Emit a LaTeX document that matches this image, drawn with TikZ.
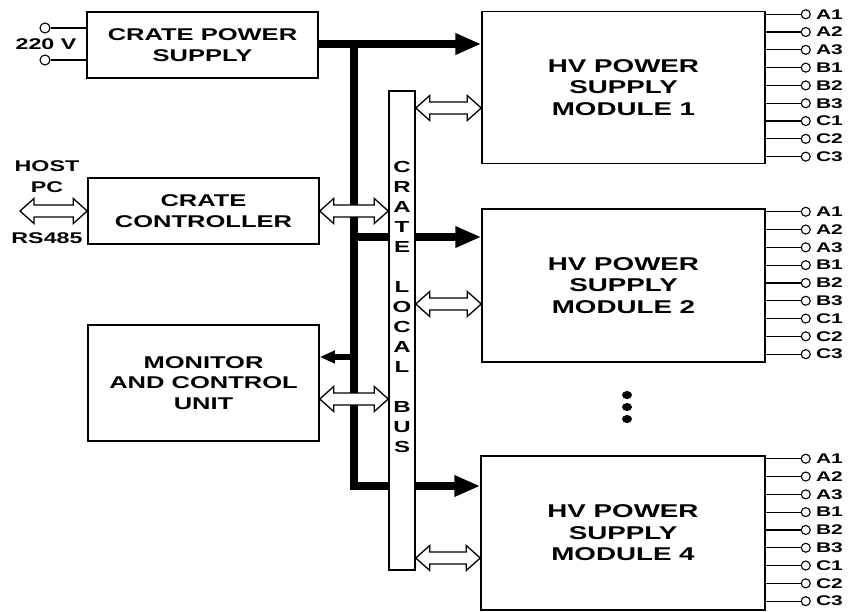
\documentclass[tikz,border=0pt]{standalone}
\usepackage{fontspec}
\newfontfamily\lab{Liberation Sans}[FakeStretch=1.5]
\usetikzlibrary{arrows.meta,calc}
\tikzset{
  box/.style={draw, line width=1.5pt, fill=white, inner sep=0pt, align=center,
    font=\lab\bfseries\fontsize{17}{20.5}\selectfont},
  modbox/.style={box, minimum width=283pt, minimum height=152pt,
    font=\lab\bfseries\fontsize{18.5}{21.5}\selectfont},
  sidelab/.style={inner sep=0pt, align=center, font=\lab\bfseries\fontsize{15.5}{21}\selectfont},
  pwr/.style={line width=8.5pt, -{Triangle[length=26pt,width=20pt]}},
  pwrline/.style={line width=8.5pt, line join=miter},
  pwrsmall/.style={line width=6pt, -{Triangle[length=15pt,width=12pt]}},
  hollow/.style={draw, line width=1.3pt, fill=white, line join=miter},
  thinline/.style={line width=1.2pt},
  term/.style={circle, draw, line width=1.1pt, minimum size=9pt, inner sep=0pt, fill=white},
  outlab/.style={anchor=west, inner sep=0pt, font=\lab\bfseries\fontsize{14}{15}\selectfont},
}
\newcommand\hollowarrow[2]{%
  \path[hollow] let \p1=#1, \p2=#2 in
    (\x1,\y1) -- (\x1+14pt,\y1+12.5pt) -- (\x1+14pt,\y1+6pt) -- (\x2-14pt,\y1+6pt)
    -- (\x2-14pt,\y1+12.5pt) -- (\x2,\y1) -- (\x2-14pt,\y1-12.5pt) -- (\x2-14pt,\y1-6pt)
    -- (\x1+14pt,\y1-6pt) -- (\x1+14pt,\y1-12.5pt) -- cycle;}
\begin{document}
\begin{tikzpicture}[x=1pt,y=-1pt]
\useasboundingbox (0,0) rectangle (856,612);

% boxes
\node[box, minimum width=231pt, minimum height=66pt] (cps) at (202.5,45) {CRATE POWER\\SUPPLY};
\node[box, minimum width=231pt, minimum height=66pt] (cc) at (203.5,211) {CRATE\\CONTROLLER};
\node[box, minimum width=231pt, minimum height=116pt] (mcu) at (203.5,383) {MONITOR\\AND CONTROL\\UNIT};
\node[modbox] (m1) at (623.5,87.5) {HV POWER\\SUPPLY\\MODULE 1};
\node[modbox, minimum height=153pt] (m2) at (623.5,285.5) {HV POWER\\SUPPLY\\MODULE 2};
\node[modbox, minimum width=284pt, minimum height=154pt] (m4) at (623,533) {HV POWER\\SUPPLY\\MODULE 4};

% power distribution
\coordinate (j1) at (354,44);
\coordinate (j2) at (354,237);
\coordinate (j3) at (354,357);
\coordinate (j4) at (354,486);
\draw[pwr] (cps.east |- j1) -- (m1.west |- j1);
\draw[pwrline] ($(j1)+(0,-4)$) -- (j4) -- ($(j4)+(40,0)$);
\draw[pwrline] (j2) -- ($(j2)+(40,0)$);
\draw[pwrsmall] (j3) -- (mcu.east |- j3);

% crate local bus
\node[draw, line width=1.5pt, fill=white, minimum width=26pt, minimum height=479pt, inner sep=0pt] (bus) at (402,330.5) {};
\node[inner sep=0pt, align=center, font=\lab\bfseries\fontsize{16}{20}\selectfont] (bustext) at (402,307)
  {C\\R\\A\\T\\E\\ \\L\\O\\C\\A\\L\\ \\B\\U\\S};

\draw[pwr] (bus.east |- j2) -- (m2.west |- j2);
\draw[pwr] (bus.east |- j4) -- (m4.west |- j4);

% hollow double arrows
\coordinate (hpc) at (20,211);
\coordinate (d1) at (0,108);
\coordinate (d2) at (0,304);
\coordinate (d3) at (0,399);
\coordinate (d4) at (0,558);
\coordinate (d5) at (0,211);
\hollowarrow{(hpc)}{(cc.west)}
\hollowarrow{(cc.east)}{(bus.west |- d5)}
\hollowarrow{(mcu.east |- d3)}{(bus.west |- d3)}
\hollowarrow{(bus.east |- d1)}{(m1.west |- d1)}
\hollowarrow{(bus.east |- d2)}{(m2.west |- d2)}
\hollowarrow{(bus.east |- d4)}{(m4.west |- d4)}

% 220 V input
\node[term, minimum size=10pt] (v1) at (45,28) {};
\node[term, minimum size=10pt] (v2) at (45,60) {};
\draw[thinline] (v1) -- (cps.west |- v1);
\draw[thinline] (v2) -- (cps.west |- v2);
\node[sidelab] (vlab) at (46,44) {220 V};

% host labels
\node[sidelab] (host) at (47,176.5) {HOST\\PC};
\node[sidelab] (rs) at (47,238) {RS485};

% outputs
\foreach \m in {m1,m2,m4}{
  \foreach \lbl [count=\i from 0] in {A1,A2,A3,B1,B2,B3,C1,C2,C3}{
    \coordinate (\m o\i) at ($(\m.north east)+(0,3.5+17.8*\i)$);
    \node[term] (\m t\i) at ($(\m o\i)+(40,0)$) {};
    \draw[thinline] (\m o\i) -- (\m t\i);
    \node[outlab] (\m l\i) at ($(\m t\i.east)+(5,0)$) {\lbl};
  }
}

% continuation dots
\foreach \yy [count=\k] in {395,407,419}{
  \fill (627,\yy) ellipse [x radius=5pt, y radius=4pt];
}
\end{tikzpicture}
\end{document}
